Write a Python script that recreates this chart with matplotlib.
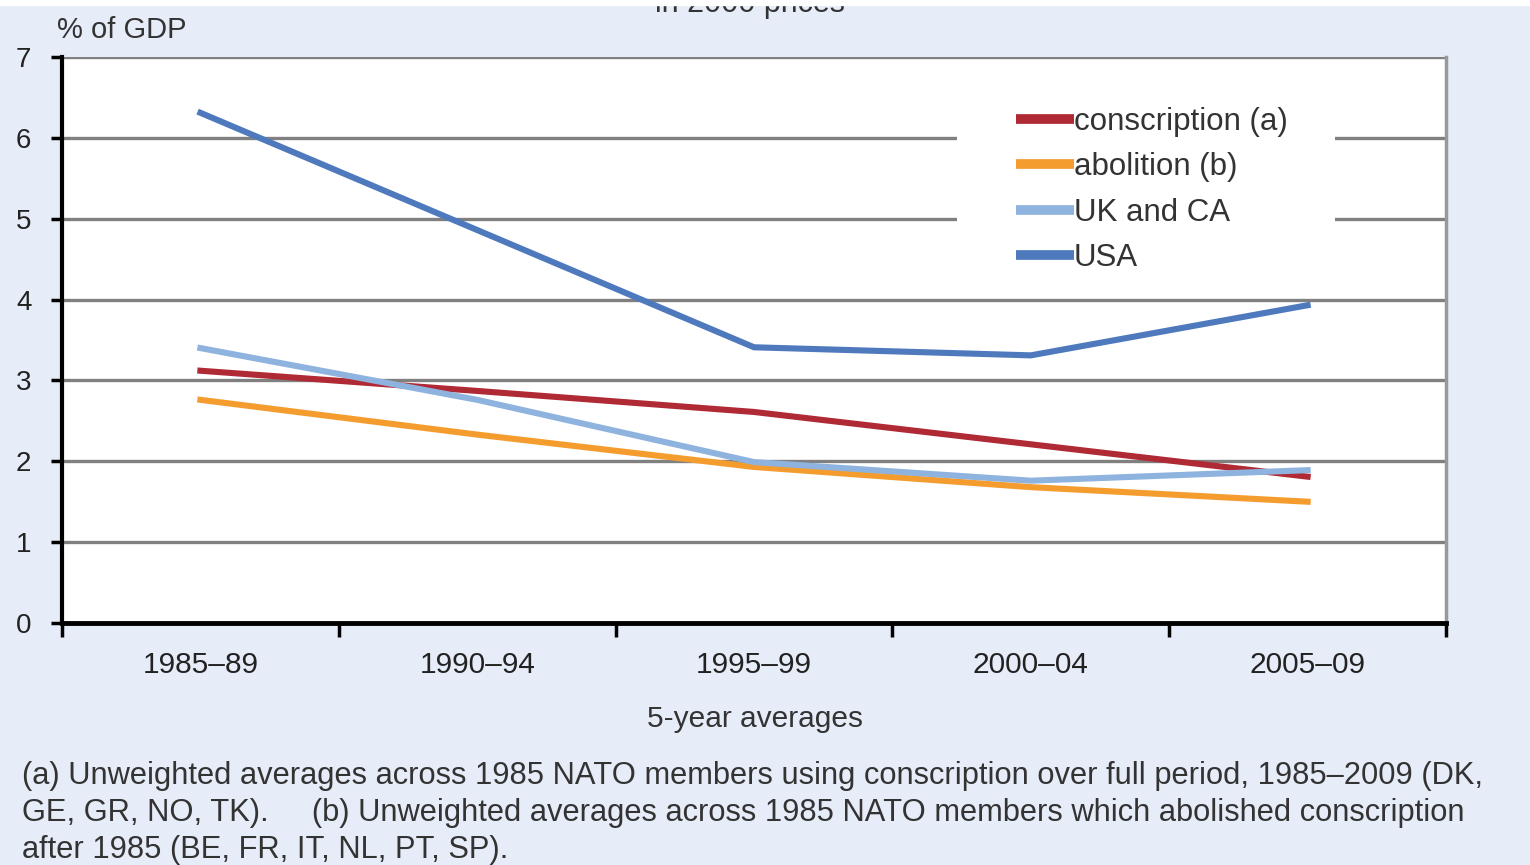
import matplotlib
matplotlib.use("Agg")
import matplotlib.pyplot as plt
from matplotlib.ticker import FixedLocator
from matplotlib.patches import Rectangle

categories = ["1985–89", "1990–94", "1995–99", "2000–04", "2005–09"]
conscription = [3.12, 2.87, 2.61, 2.21, 1.81]
abolition = [2.76, 2.33, 1.93, 1.68, 1.50]
uk_ca = [3.40, 2.76, 1.99, 1.76, 1.89]
usa = [6.31, 4.86, 3.41, 3.31, 3.93]
series_names = ["conscription (a)", "abolition (b)", "UK and CA", "USA"]
y_ticks = [0, 1, 2, 3, 4, 5, 6, 7]

colors = ["#B02A35", "#F59C2F", "#8EB3DE", "#4F79BD"]
bg = "#E6ECF8"

plt.rcParams['font.family'] = ['Liberation Sans', 'DejaVu Sans']

fig = plt.figure(figsize=(15.3, 8.65), dpi=100, facecolor=bg)
ax = fig.add_axes([62/1530, 1 - 623/865, (1446-62)/1530, (623-57)/865])
ax.set_facecolor("white")

x = list(range(len(categories)))
for vals, name, c in zip([conscription, abolition, uk_ca, usa], series_names, colors):
    ax.plot(x, vals, color=c, lw=4.4, label=name, solid_joinstyle="miter", zorder=3)

ax.set_xlim(-0.5, len(categories) - 0.5)
ax.set_ylim(0, 7)
ax.yaxis.set_major_locator(FixedLocator(y_ticks))
ax.set_yticklabels([str(v) for v in y_ticks], fontsize=20, color="#222222")
for v in y_ticks[1:]:
    ax.axhline(v, color="#808080", lw=2.4, zorder=1)

ax.xaxis.set_major_locator(FixedLocator([i - 0.5 for i in range(len(categories) + 1)]))
ax.set_xticklabels([])
ax.xaxis.set_minor_locator(FixedLocator(x))
ax.set_xticklabels(categories, minor=True, fontsize=21.5, color="#222222")
ax.tick_params(axis="x", which="major", length=10, width=2.5, color="black", direction="out")
ax.tick_params(axis="x", which="minor", length=0, pad=20)
ax.tick_params(axis="y", length=8, width=2.5, color="black", pad=14)

ax.spines["top"].set_visible(False)
ax.spines["right"].set_color("#999999")
ax.spines["right"].set_linewidth(2.5)
ax.spines["left"].set_color("black")
ax.spines["left"].set_linewidth(3)
ax.spines["bottom"].set_color("black")
ax.spines["bottom"].set_linewidth(3.5)

# legend with white background occluding gridlines
ax.add_patch(Rectangle((957, 865 - 280), 1335 - 957, 185, transform=None,
                       facecolor="white", edgecolor="none", zorder=2))
leg = ax.legend(loc="upper left", bbox_to_anchor=((991-62)/(1446-62), (623-82)/(623-57)),
                frameon=False, fontsize=22.5, handlelength=1.85, handletextpad=0.0,
                labelspacing=0.49, labelcolor="#333333", borderpad=0.3)
for line in leg.get_lines():
    line.set_linewidth(7)
    line.set_solid_capstyle("butt")

fig.text(57/1530, 1 - 30/865, "% of GDP", fontsize=21, color="#333333", va="center", ha="left")
fig.text(750/1530, 1 - 12/865, "in 2000 prices", fontsize=22, color="#333333",
         va="baseline", ha="center")
# white strip at very top (cropped edge)
fig.patches.append(Rectangle((0, 1 - 5/865), 1, 5/865, transform=fig.transFigure,
                             color="white", zorder=10))
fig.text(755/1530, 1 - 719/865, "5-year averages", fontsize=21.5, color="#333333",
         va="center", ha="center")

foot = ["(a) Unweighted averages across 1985 NATO members using conscription over full period, 1985–2009 (DK,",
        "GE, GR, NO, TK).     (b) Unweighted averages across 1985 NATO members which abolished conscription",
        "after 1985 (BE, FR, IT, NL, PT, SP)."]
for i, line in enumerate(foot):
    fig.text(22/1530, 1 - (776 + 37*i)/865, line, fontsize=22.2, color="#333333",
             va="center", ha="left")

fig.savefig("out.png", dpi=100, facecolor=bg)
